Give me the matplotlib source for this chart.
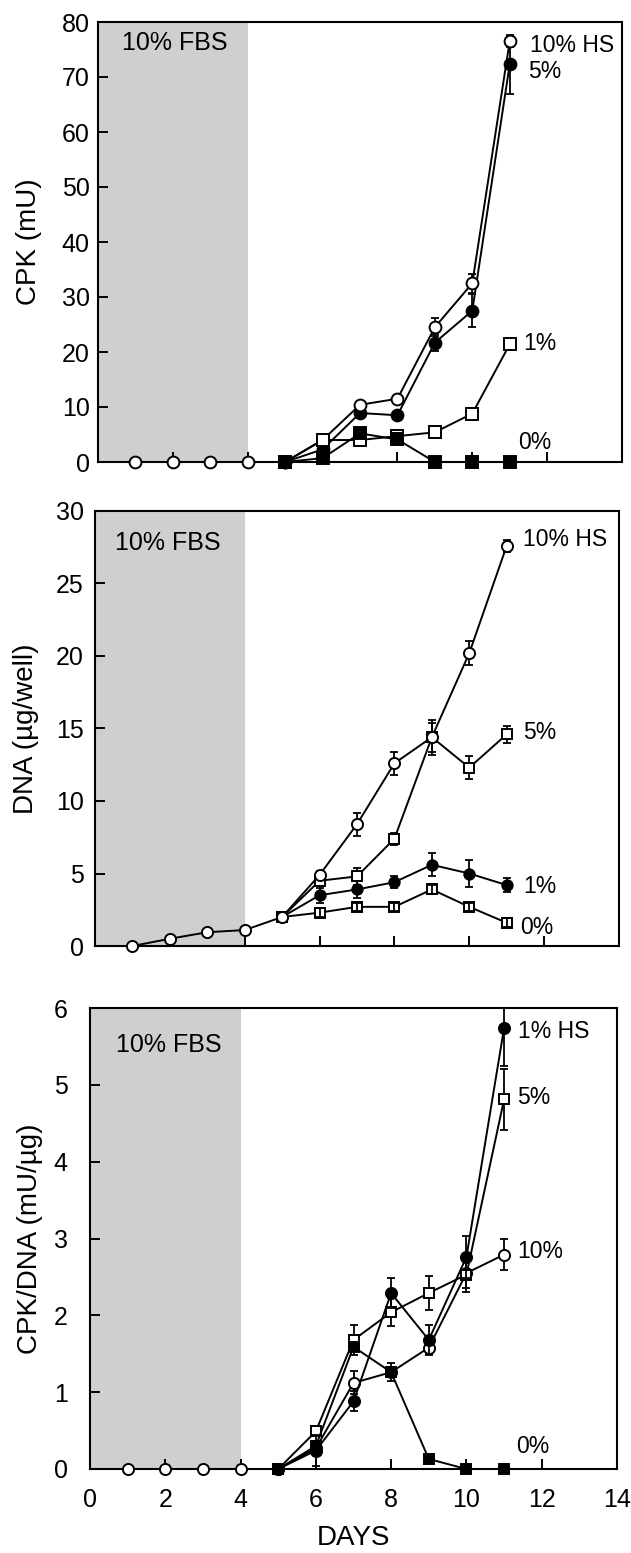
import matplotlib
matplotlib.use("Agg")
import matplotlib.pyplot as plt
import numpy as np

plt.rcParams['font.family'] = ['Liberation Sans', 'DejaVu Sans']

# ---------------- data ----------------
pre_days = [1, 2, 3, 4]
days = [5, 6, 7, 8, 9, 10, 11]

# Panel 1: CPK (mU)
cpk_pre = [0, 0, 0, 0]
cpk_10 = [0, 4.0, 10.4, 11.5, 24.5, 32.5, 76.5]
cpk_10_err = [0, 0, 0, 0, 1.6, 1.7, 1.0]
cpk_5 = [0, 2.3, 8.9, 8.5, 21.7, 27.5, 72.3]
cpk_5_err = [0, 0, 0, 0, 1.6, 3.0, 5.3]
cpk_1 = [0, 4.0, 4.0, 4.7, 5.4, 8.8, 21.4]
cpk_0 = [0, 0.7, 5.2, 4.1, 0, 0, 0]

# Panel 2: DNA (ug/well)
dna_pre = [0, 0.5, 0.95, 1.1]
dna_10 = [2.0, 4.9, 8.4, 12.6, 14.4, 20.2, 27.6]
dna_10_err = [0, 0.3, 0.8, 0.8, 1.2, 0.8, 0.4]
dna_5 = [2.0, 4.5, 4.8, 7.4, 14.4, 12.3, 14.6]
dna_5_err = [0, 0.3, 0.6, 0.4, 1.0, 0.8, 0.6]
dna_1 = [2.0, 3.5, 3.9, 4.4, 5.6, 5.0, 4.2]
dna_1_err = [0, 0.5, 0.6, 0.4, 0.8, 0.9, 0.5]
dna_0 = [2.0, 2.3, 2.7, 2.7, 3.9, 2.7, 1.6]
dna_0_err = [0, 0.3, 0.3, 0.3, 0.3, 0.3, 0.3]

# Panel 3: CPK/DNA (mU/ug)
rat_pre = [0, 0, 0, 0]
rat_10 = [0, 0.27, 1.12, 1.26, 1.58, 2.55, 2.79]
rat_10_err = [0, 0, 0.15, 0.12, 0.08, 0.2, 0.2]
rat_5 = [0, 0.49, 1.68, 2.04, 2.29, 2.53, 4.81]
rat_5_err = [0, 0, 0.2, 0.18, 0.22, 0.22, 0.4]
rat_1 = [0, 0.24, 0.88, 2.29, 1.68, 2.76, 5.74]
rat_1_err = [0, 0.2, 0.13, 0.2, 0.2, 0.27, 0.5]
rat_0 = [0, 0.30, 1.59, 1.26, 0.13, 0, 0]

# ---------------- figure ----------------
W, H = 631, 1553
fig = plt.figure(figsize=(W / 100, H / 100), dpi=100)


def add_axes(x0, x1, ytop, ybot):
    return fig.add_axes([x0 / W, 1 - ybot / H, (x1 - x0) / W,
                         (ybot - ytop) / H])


ax1 = add_axes(98, 622, 22, 462)
ax2 = add_axes(95, 619, 511, 946)
ax3 = add_axes(90, 617, 1008, 1469)

LW = 1.4
SHADE = '#cfcfcf'
TICKFS = 18
LABFS = 16.5


def style(ax, ymax, yticks, ylabel, show_x, ypad, labx):
    ax.set_xlim(0, 14)
    ax.set_ylim(0, ymax)
    ax.axvspan(0, 4, color=SHADE, zorder=0, lw=0)
    ax.set_xticks(np.arange(0, 15, 2))
    ax.set_yticks(yticks)
    ax.tick_params(direction='in', length=7, width=1.4, labelsize=TICKFS)
    ax.tick_params(axis='y', pad=ypad)
    ax.tick_params(axis='x', pad=14)
    if not show_x:
        ax.set_xticklabels([])
    for s in ax.spines.values():
        s.set_linewidth(1.5)
    ax.set_ylabel(ylabel, fontsize=20)
    ax.yaxis.set_label_coords(labx, 0.5)


def series(ax, y, err=None, marker='o', fc='white', ms=8.5, z=3,
           err_on_top=False):
    ax.plot(days, y, color='black', lw=LW, marker=marker, ms=ms,
            mfc=fc, mec='black', mew=1.4, clip_on=False, zorder=z)
    if err is not None:
        ax.errorbar(days, y, yerr=err, fmt='none', ecolor='black',
                    elinewidth=1.3, capsize=3, capthick=1.3,
                    zorder=z + 0.5 if err_on_top else z - 0.5)


def pre(ax, ypre, y5, ms=8.5):
    ax.plot(pre_days + [5], list(ypre) + [y5], color='black', lw=LW,
            zorder=2, clip_on=False)
    ax.plot(pre_days, ypre, ls='none', marker='o', ms=ms, mfc='white',
            mec='black', mew=1.4, clip_on=False, zorder=3)


# Panel 1
style(ax1, 80, range(0, 81, 10), 'CPK (mU)', False, 6, -0.107)
pre(ax1, cpk_pre, cpk_0[0])
series(ax1, cpk_5, cpk_5_err, marker='o', fc='black', ms=8.5)
series(ax1, cpk_10, cpk_10_err, marker='o', fc='white', ms=8.5, z=4)
series(ax1, cpk_1, marker='s', fc='white', ms=8, z=4.6)
series(ax1, cpk_0, marker='s', fc='black', ms=8, z=5)
ax1.text(0.046, 0.952, '10% FBS', transform=ax1.transAxes, fontsize=18,
         va='center', ha='left')
ax1.text(11.54, 75.8, '10% HS', fontsize=LABFS, va='center')
ax1.text(11.49, 71.0, '5%', fontsize=LABFS, va='center')
ax1.text(11.35, 21.5, '1%', fontsize=LABFS, va='center')
ax1.text(11.22, 3.6, '0%', fontsize=LABFS, va='center')

# Panel 2
style(ax2, 30, range(0, 31, 5), 'DNA (µg/well)', False, 8, -0.106)
pre(ax2, dna_pre, dna_0[0], ms=8)
series(ax2, dna_0, dna_0_err, marker='s', fc='white', ms=6.5,
       err_on_top=True)
series(ax2, dna_1, dna_1_err, marker='o', fc='black', ms=7.5)
series(ax2, dna_5, dna_5_err, marker='s', fc='white', ms=7)
series(ax2, dna_10, dna_10_err, marker='o', fc='white', ms=8, z=4)
ax2.text(0.038, 0.926, '10% FBS', transform=ax2.transAxes, fontsize=18,
         va='center', ha='left')
ax2.text(11.43, 28.0, '10% HS', fontsize=LABFS, va='center')
ax2.text(11.43, 14.7, '5%', fontsize=LABFS, va='center')
ax2.text(11.43, 4.1, '1%', fontsize=LABFS, va='center')
ax2.text(11.35, 1.3, '0%', fontsize=LABFS, va='center')

# Panel 3
style(ax3, 6, range(0, 7, 1), 'CPK/DNA (mU/µg)', True, 16, -0.09)
pre(ax3, rat_pre, rat_0[0], ms=8)
series(ax3, rat_10, rat_10_err, marker='o', fc='white', ms=8)
series(ax3, rat_5, rat_5_err, marker='s', fc='white', ms=7.5)
series(ax3, rat_1, rat_1_err, marker='o', fc='black', ms=8, z=4)
series(ax3, rat_0, marker='s', fc='black', ms=7, z=5)
ax3.text(0.05, 0.92, '10% FBS', transform=ax3.transAxes, fontsize=18,
         va='center', ha='left')
ax3.text(11.37, 5.7, '1% HS', fontsize=LABFS, va='center')
ax3.text(11.34, 4.84, '5%', fontsize=LABFS, va='center')
ax3.text(11.34, 2.83, '10%', fontsize=LABFS, va='center')
ax3.text(11.32, 0.29, '0%', fontsize=LABFS, va='center')
ax3.set_xlabel('DAYS', fontsize=20, labelpad=9)

fig.savefig('out.png', dpi=100)
